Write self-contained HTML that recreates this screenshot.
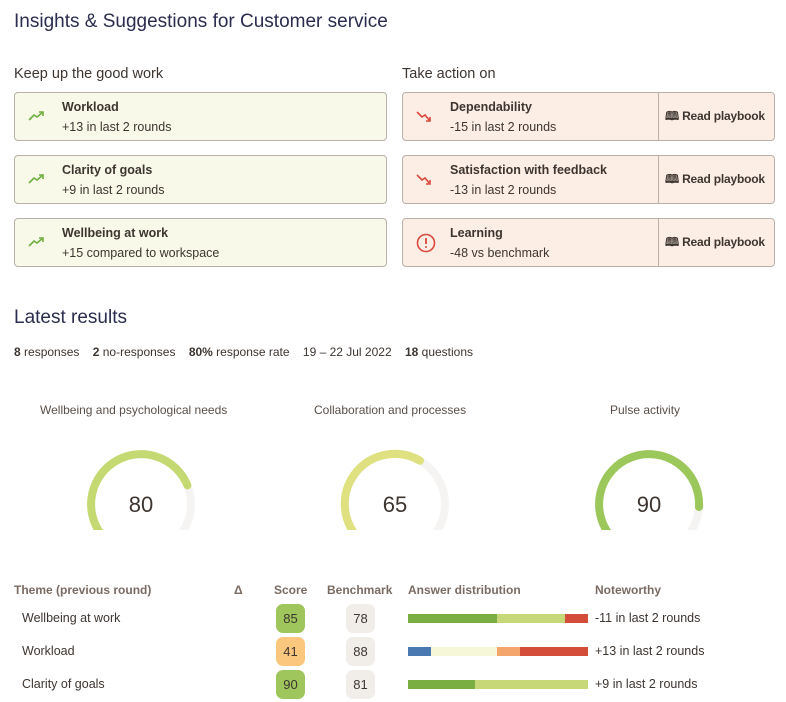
<!DOCTYPE html>
<html><head><meta charset="utf-8"><style>
*{margin:0;padding:0;box-sizing:border-box}
body{width:786px;height:702px;background:#fff;font-family:"Liberation Sans",sans-serif;color:#3d3530;position:relative;overflow:hidden}
.a{position:absolute;white-space:nowrap}
.card{position:absolute;height:49px;border:1px solid #b9b0a9;border-radius:4px}
.g{background:#f8f9e9;left:14px;width:373px}
.r{background:#fdeee5;left:402px;width:373px}
.card .t{position:absolute;left:47px;top:7px;font-size:12.5px;font-weight:bold;color:#3d3530}
.card .s{position:absolute;left:47px;top:27px;font-size:12.5px;color:#3d3530}
.card .pb{position:absolute;left:255px;top:0;width:117px;height:47px;border-left:1px solid #b9b0a9;font-size:12px;font-weight:bold;line-height:47px;padding-left:6px;letter-spacing:-0.2px}
.hd{font-size:12px;font-weight:bold;color:#7a6b62;top:583px}
.row{font-size:12.5px;color:#3d3530}
.badge{position:absolute;width:29px;height:29px;border-radius:7px;font-size:13px;text-align:center;line-height:29px;color:#3d3530}
.bar{position:absolute;height:9px}
</style></head><body>
<div class="a" style="left:14px;top:11px;font-size:19px;color:#2b2d4f">Insights &amp; Suggestions for Customer service</div>
<div class="a" style="left:14px;top:66px;font-size:14.5px;color:#3d3530">Keep up the good work</div>
<div class="a" style="left:402px;top:66px;font-size:14.5px;color:#3d3530">Take action on</div>

<div class="card g" style="top:92px"><svg class="a" style="left:12px;top:16px" width="20" height="14"><polyline points="2,11 7,6 10,8 16,3" fill="none" stroke="#6fae3f" stroke-width="1.6"/><polyline points="12,3 16,3 16,7" fill="none" stroke="#6fae3f" stroke-width="1.6"/></svg><div class="t">Workload</div><div class="s">+13 in last 2 rounds</div></div>
<div class="card g" style="top:155px"><svg class="a" style="left:12px;top:16px" width="20" height="14"><polyline points="2,11 7,6 10,8 16,3" fill="none" stroke="#6fae3f" stroke-width="1.6"/><polyline points="12,3 16,3 16,7" fill="none" stroke="#6fae3f" stroke-width="1.6"/></svg><div class="t">Clarity of goals</div><div class="s">+9 in last 2 rounds</div></div>
<div class="card g" style="top:218px"><svg class="a" style="left:12px;top:16px" width="20" height="14"><polyline points="2,11 7,6 10,8 16,3" fill="none" stroke="#6fae3f" stroke-width="1.6"/><polyline points="12,3 16,3 16,7" fill="none" stroke="#6fae3f" stroke-width="1.6"/></svg><div class="t">Wellbeing at work</div><div class="s">+15 compared to workspace</div></div>

<div class="card r" style="top:92px"><svg class="a" style="left:12px;top:16px" width="20" height="16"><polyline points="2,3 7,8 10,6 15,12" fill="none" stroke="#d9483a" stroke-width="1.6"/><polyline points="15,8 15,12 11,12" fill="none" stroke="#d9483a" stroke-width="1.6"/></svg><div class="t">Dependability</div><div class="s">-15 in last 2 rounds</div><div class="pb">🕮 Read playbook</div></div>
<div class="card r" style="top:155px"><svg class="a" style="left:12px;top:16px" width="20" height="16"><polyline points="2,3 7,8 10,6 15,12" fill="none" stroke="#d9483a" stroke-width="1.6"/><polyline points="15,8 15,12 11,12" fill="none" stroke="#d9483a" stroke-width="1.6"/></svg><div class="t">Satisfaction with feedback</div><div class="s">-13 in last 2 rounds</div><div class="pb">🕮 Read playbook</div></div>
<div class="card r" style="top:218px"><svg class="a" style="left:12px;top:13px" width="22" height="22"><circle cx="11" cy="11" r="8.5" fill="none" stroke="#d9483a" stroke-width="1.6"/><line x1="11" y1="6" x2="11" y2="12" stroke="#d9483a" stroke-width="1.8"/><circle cx="11" cy="15" r="1" fill="#d9483a"/></svg><div class="t">Learning</div><div class="s">-48 vs benchmark</div><div class="pb">🕮 Read playbook</div></div>

<div class="a" style="left:14px;top:307px;font-size:19px;color:#2b2d4f">Latest results</div>
<div class="a" style="left:14px;top:345px;font-size:12px;color:#3d3530"><b>8</b> responses &nbsp;&nbsp; <b>2</b> no-responses &nbsp;&nbsp; <b>80%</b> response rate &nbsp;&nbsp; 19 – 22 Jul 2022 &nbsp;&nbsp; <b>18</b> questions</div>

<div class="a" style="left:40px;top:403px;font-size:12px;color:#5a4f48">Wellbeing and psychological needs</div>
<div class="a" style="left:314px;top:403px;font-size:12px;color:#5a4f48">Collaboration and processes</div>
<div class="a" style="left:610px;top:403px;font-size:12px;color:#5a4f48">Pulse activity</div>

<svg class="a" style="left:0;top:440px" width="786" height="90">
<g fill="none" stroke-width="8" stroke-linecap="round">
<circle cx="141" cy="64" r="50" stroke="#f5f4f2"/>
<circle cx="395" cy="64" r="50" stroke="#f5f4f2"/>
<circle cx="649" cy="64" r="50" stroke="#f5f4f2"/>
<path d="M105.6,99.4 A50,50 0 1 1 187.4,45.3" stroke="#c5d972"/>
<path d="M359.6,99.4 A50,50 0 0 1 420,20.7" stroke="#dfe07f"/>
<path d="M613.6,99.4 A50,50 0 1 1 699,67" stroke="#9cc75b"/>
</g>
<text x="141" y="72" font-size="22" text-anchor="middle" fill="#3d3530" font-family="Liberation Sans">80</text>
<text x="395" y="72" font-size="22" text-anchor="middle" fill="#3d3530" font-family="Liberation Sans">65</text>
<text x="649" y="72" font-size="22" text-anchor="middle" fill="#3d3530" font-family="Liberation Sans">90</text>
</svg>

<div class="a hd" style="left:14px">Theme (previous round)</div>
<div class="a hd" style="left:234px">Δ</div>
<div class="a hd" style="left:274px">Score</div>
<div class="a hd" style="left:327px">Benchmark</div>
<div class="a hd" style="left:408px">Answer distribution</div>
<div class="a hd" style="left:595px">Noteworthy</div>

<div class="a row" style="left:22px;top:611px">Wellbeing at work</div>
<div class="a row" style="left:22px;top:644px">Workload</div>
<div class="a row" style="left:22px;top:677px">Clarity of goals</div>

<div class="badge" style="left:276px;top:604px;background:#9fc65c">85</div>
<div class="badge" style="left:276px;top:637px;background:#fbc77e">41</div>
<div class="badge" style="left:276px;top:670px;background:#9fc65c">90</div>
<div class="badge" style="left:346px;top:604px;background:#f1eeea">78</div>
<div class="badge" style="left:346px;top:637px;background:#f1eeea">88</div>
<div class="badge" style="left:346px;top:670px;background:#f1eeea">81</div>

<div class="bar" style="left:408px;top:614px;width:89px;background:#7aae43"></div>
<div class="bar" style="left:497px;top:614px;width:68px;background:#c6d878"></div>
<div class="bar" style="left:565px;top:614px;width:23px;background:#d44c3a"></div>
<div class="bar" style="left:408px;top:647px;width:23px;background:#4a78b0"></div>
<div class="bar" style="left:431px;top:647px;width:66px;background:#f6f6d8"></div>
<div class="bar" style="left:497px;top:647px;width:23px;background:#f3a56b"></div>
<div class="bar" style="left:520px;top:647px;width:68px;background:#d44c3a"></div>
<div class="bar" style="left:408px;top:680px;width:67px;background:#7aae43"></div>
<div class="bar" style="left:475px;top:680px;width:113px;background:#c6d878"></div>

<div class="a row" style="left:595px;top:611px">-11 in last 2 rounds</div>
<div class="a row" style="left:595px;top:644px">+13 in last 2 rounds</div>
<div class="a row" style="left:595px;top:677px">+9 in last 2 rounds</div>
</body></html>
